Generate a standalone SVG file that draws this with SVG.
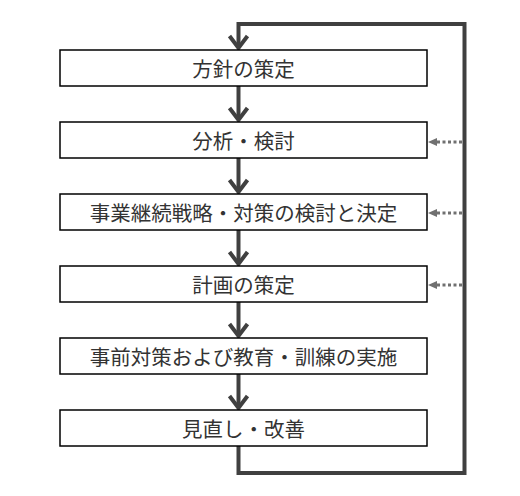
<svg xmlns="http://www.w3.org/2000/svg" width="520" height="496" viewBox="0 0 520 496">
<style>
.box{fill:#fff;stroke:#000;stroke-width:1.5}
.lbl{font-family:"Noto Sans CJK JP","Noto Sans CJK SC",sans-serif;font-size:20.5px;fill:#333;text-anchor:middle;dominant-baseline:central}
.main{fill:none;stroke:#404040;stroke-width:4}
.head{fill:none;stroke:#404040;stroke-width:4;stroke-linejoin:miter;stroke-linecap:butt}
.dot{fill:none;stroke:#707070;stroke-width:3;stroke-dasharray:3 2.5}
</style>
<defs>
<marker id="tri" markerWidth="10" markerHeight="8" refX="0" refY="4" orient="auto" markerUnits="userSpaceOnUse">
<path d="M10,0 L0,4 L10,8 Z" fill="#707070"/>
</marker>
</defs>
<rect width="520" height="496" fill="#fff"/>
<g id="connectors">
<path class="main" d="M238.5,446 V473 H464.5 V24 H238.5 V48"/>
<polyline class="head" points="229.5,36 238.5,48 247.5,36"/>
<path class="main" d="M238.5,86 V120"/>
<polyline class="head" points="229.5,108 238.5,120 247.5,108"/>
<path class="main" d="M238.5,158 V192"/>
<polyline class="head" points="229.5,180 238.5,192 247.5,180"/>
<path class="main" d="M238.5,230 V264"/>
<polyline class="head" points="229.5,252 238.5,264 247.5,252"/>
<path class="main" d="M238.5,302 V336"/>
<polyline class="head" points="229.5,324 238.5,336 247.5,324"/>
<path class="main" d="M238.5,374 V408"/>
<polyline class="head" points="229.5,396 238.5,408 247.5,396"/>
<path d="M428,142 L437,138 L437,146 Z" fill="#707070"/>
<path class="dot" d="M437,142 H462"/>
<path d="M428,213 L437,209 L437,217 Z" fill="#707070"/>
<path class="dot" d="M437,213 H462"/>
<path d="M428,285 L437,281 L437,289 Z" fill="#707070"/>
<path class="dot" d="M437,285 H462"/>
</g>
<g id="n1"><rect class="box" x="60" y="50" width="367" height="36"/><text class="lbl" x="243.5" y="68">方針の策定</text></g>
<g id="n2"><rect class="box" x="60" y="122" width="367" height="36"/><text class="lbl" x="243.5" y="140">分析・検討</text></g>
<g id="n3"><rect class="box" x="60" y="194" width="367" height="36"/><text class="lbl" x="243.5" y="212">事業継続戦略・対策の検討と決定</text></g>
<g id="n4"><rect class="box" x="60" y="266" width="367" height="36"/><text class="lbl" x="243.5" y="284">計画の策定</text></g>
<g id="n5"><rect class="box" x="60" y="338" width="367" height="36"/><text class="lbl" x="243.5" y="356">事前対策および教育・訓練の実施</text></g>
<g id="n6"><rect class="box" x="60" y="410" width="367" height="36"/><text class="lbl" x="243.5" y="428">見直し・改善</text></g>
</svg>
